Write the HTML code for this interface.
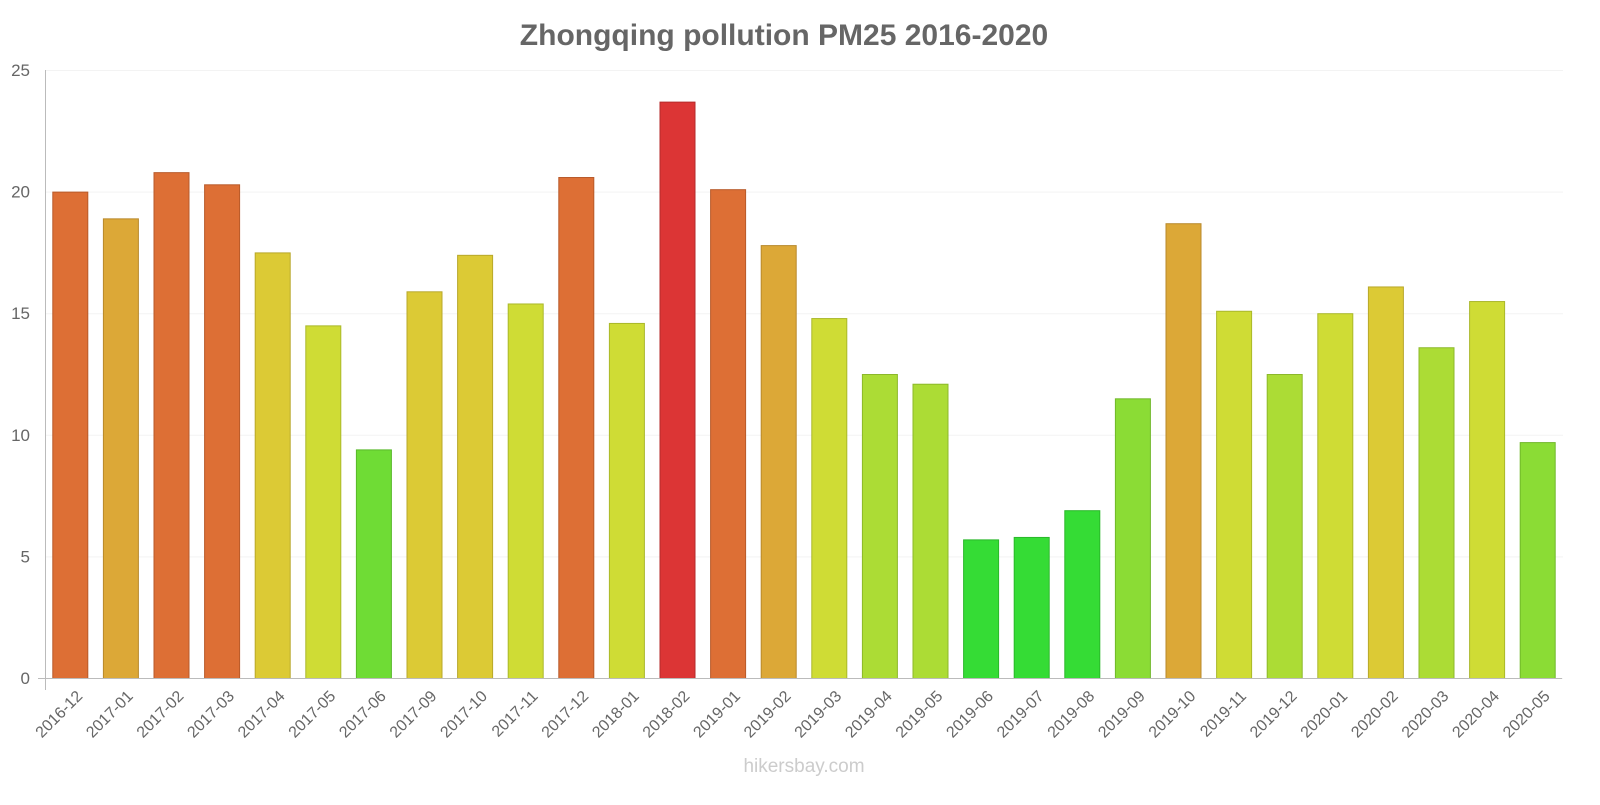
<!DOCTYPE html>
<html><head><meta charset="utf-8"><style>
body{margin:0;background:#fff;font-family:"Liberation Sans",sans-serif}
</style></head><body>
<svg id="chart" width="1600" height="800" xmlns="http://www.w3.org/2000/svg">
<text x="784" y="45" text-anchor="middle" font-size="30" font-weight="bold" fill="#666">Zhongqing pollution PM25 2016-2020</text>
<g id="grid"></g><g id="bars"></g><g id="xlabels"></g><g id="ylabels"></g>
<line x1="45.5" y1="70" x2="45.5" y2="690" stroke="#bbb"/>
<line x1="38" y1="678.5" x2="1562" y2="678.5" stroke="#bbb"/>
<text x="804" y="772" text-anchor="middle" font-size="19" fill="#ccc">hikersbay.com</text>
</svg>
<script>
const categories=["2016-12","2017-01","2017-02","2017-03","2017-04","2017-05","2017-06","2017-09","2017-10","2017-11","2017-12","2018-01","2018-02","2019-01","2019-02","2019-03","2019-04","2019-05","2019-06","2019-07","2019-08","2019-09","2019-10","2019-11","2019-12","2020-01","2020-02","2020-03","2020-04","2020-05"];
const values=[20.0,18.9,20.8,20.3,17.5,14.5,9.4,15.9,17.4,15.4,20.6,14.6,23.7,20.1,17.8,14.8,12.5,12.1,5.7,5.8,6.9,11.5,18.7,15.1,12.5,15.0,16.1,13.6,15.5,9.7];
const yTicks=[0,5,10,15,20,25];
const NS="http://www.w3.org/2000/svg";
const y0=678,yTop=70,yMax=25,left=45,right=1563;
const yScale=v=>y0-(v/yMax)*(y0-yTop);
const step=(right-left)/categories.length;
const xCenter=i=>left+step*(i+0.5);
function color(v){
 if(v>=22)return["#dc3535","#b52a2a"];
 if(v>=19.9)return["#dd6f35","#b85a2a"];
 if(v>=17.6)return["#dca837","#b8892b"];
 if(v>=15.6)return["#dcca35","#b8a82a"];
 if(v>=14)return["#cfdc35","#aab82a"];
 if(v>=12)return["#acdc35","#8cb82a"];
 if(v>=9.5)return["#8bdc35","#70b82a"];
 if(v>=7)return["#6fdc35","#58b82a"];
 return["#35dc35","#2ab82a"];
}
const g=document.getElementById('grid'),b=document.getElementById('bars'),xl=document.getElementById('xlabels'),yl=document.getElementById('ylabels');
yTicks.forEach(t=>{
 const y=yScale(t);
 const ln=document.createElementNS(NS,'line');
 
 
 ln.setAttribute('x1',left);ln.setAttribute('x2',right);ln.setAttribute('y1',y+0.5);ln.setAttribute('y2',y+0.5);ln.setAttribute('stroke','#f3f3f3');
 g.appendChild(ln);
 const tx=document.createElementNS(NS,'text');
 
 
 tx.setAttribute('x',30);tx.setAttribute('y',y+6);tx.setAttribute('text-anchor','end');tx.setAttribute('font-size','17');tx.setAttribute('fill','#666');
 tx.textContent=t;yl.appendChild(tx);
});
categories.forEach((c,i)=>{
 const v=values[i],cx=xCenter(i),w=36,y=yScale(v);
 const [f,s]=color(v);
 const r=document.createElementNS(NS,'rect');
 
 
 r.setAttribute('x',cx-w/2+0.5);r.setAttribute('y',y+0.5);r.setAttribute('width',w-1);r.setAttribute('height',y0-y);
 r.setAttribute('fill',f);r.setAttribute('stroke',s);
 b.appendChild(r);
 const tx=document.createElementNS(NS,'text');
 
 
 tx.setAttribute('transform','translate('+(cx+6)+',690) rotate(-45)');
 tx.setAttribute('text-anchor','end');tx.setAttribute('font-size','16');tx.setAttribute('fill','#666');
 tx.setAttribute('dy','10');
 tx.textContent=c;xl.appendChild(tx);
});
</script>
</body></html>
